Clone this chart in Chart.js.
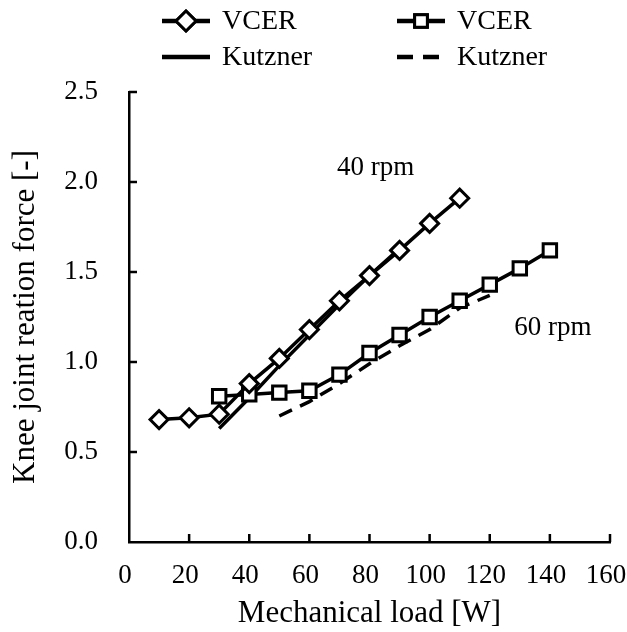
<!DOCTYPE html>
<html><head><meta charset="utf-8">
<script src="https://cdn.jsdelivr.net/npm/chart.js@4/dist/chart.umd.min.js"></script>
<style>html,body{margin:0;padding:0;background:#fff;} #wrap{width:627px;height:632px;position:relative;}</style>
</head><body><div id="wrap"><canvas id="c" width="627" height="632"></canvas></div>
<script>
// ---- data ----
const loads40 = [10, 20, 30, 40, 50, 60, 70, 80, 90, 100, 110];
const vcer40 = [0.68, 0.69, 0.71, 0.88, 1.02, 1.18, 1.34, 1.48, 1.62, 1.77, 1.91];
const loads60 = [30, 40, 50, 60, 70, 80, 90, 100, 110, 120, 130, 140];
const vcer60 = [0.81, 0.82, 0.83, 0.84, 0.93, 1.05, 1.15, 1.25, 1.34, 1.43, 1.52, 1.62];
const kutznerLoads40 = [30, 40, 50, 60, 70, 80, 90];
const kutzner40 = [0.63, 0.80, 0.98, 1.15, 1.32, 1.48, 1.63];
const kutznerLoads60 = [50, 60, 70, 80, 90, 100, 110, 120];
const kutzner60 = [0.70, 0.78, 0.88, 0.99, 1.09, 1.18, 1.30, 1.37];
const seriesLabels = ['VCER', 'VCER', 'Kutzner', 'Kutzner'];
const xTickValues = [0, 20, 40, 60, 80, 100, 120, 140, 160];
const yTickValues = [0.0, 0.5, 1.0, 1.5, 2.0, 2.5];
const xTitle = 'Mechanical load [W]';
const yTitle = 'Knee joint reation force [-]';
const notes = [{text: '40 rpm', x: 82, y: 2.08}, {text: '60 rpm', x: 141, y: 1.19}];

const FONT = '"Liberation Serif", "Times New Roman", serif';
const toXY = (xs, ys) => xs.map((x, i) => ({x: x, y: ys[i]}));

const datasets = [
  {label: seriesLabels[0], data: toXY(loads40, vcer40), borderColor: '#000', backgroundColor: '#fff',
   borderWidth: 3.5, pointStyle: 'rectRot', pointRadius: 9, pointBorderWidth: 3, pointBackgroundColor: '#fff', pointBorderColor: '#000'},
  {label: seriesLabels[1], data: toXY(loads60, vcer60), borderColor: '#000', backgroundColor: '#fff',
   borderWidth: 3.5, pointStyle: 'rect', pointRadius: 9.5, pointBorderWidth: 3, pointBackgroundColor: '#fff', pointBorderColor: '#000'},
  {label: seriesLabels[2], data: toXY(kutznerLoads40, kutzner40), borderColor: '#000',
   borderWidth: 3.5, pointRadius: 0, legendDash: []},
  {label: seriesLabels[3], data: toXY(kutznerLoads60, kutzner60), borderColor: '#000',
   borderWidth: 3.5, pointRadius: 0, borderDash: [14, 9], legendDash: [16, 10]}
];

const extras = {
  id: 'extras',
  afterDraw(chart) {
    const ctx = chart.ctx;
    const xs = chart.scales.x, ys = chart.scales.y;
    const area = chart.chartArea;
    ctx.save();
    // inward tick marks
    ctx.strokeStyle = '#000';
    ctx.lineWidth = 2.5;
    ctx.beginPath();
    xTickValues.forEach(v => {
      if (v === 0) return;
      const px = xs.getPixelForValue(v);
      ctx.moveTo(px, area.bottom); ctx.lineTo(px, area.bottom - 8);
    });
    yTickValues.forEach(v => {
      if (v === 0) return;
      const py = ys.getPixelForValue(v);
      ctx.moveTo(area.left, py); ctx.lineTo(area.left + 8, py);
    });
    ctx.stroke();
    // annotations
    ctx.fillStyle = '#000';
    ctx.font = '27px ' + FONT;
    ctx.textAlign = 'center';
    ctx.textBaseline = 'middle';
    notes.forEach(n => ctx.fillText(n.text, xs.getPixelForValue(n.x), ys.getPixelForValue(n.y)));
    // legend 2x2
    const cols = [162, 397], rows = [21, 57];
    chart.data.datasets.forEach((ds, i) => {
      const x0 = cols[i % 2], y0 = rows[Math.floor(i / 2)];
      ctx.save();
      ctx.strokeStyle = '#000';
      ctx.lineWidth = 4.5;
      const dash = ds.legendDash || [];
      ctx.setLineDash(dash);
      ctx.beginPath(); ctx.moveTo(x0, y0); ctx.lineTo(x0 + (dash.length ? 43 : 48), y0); ctx.stroke();
      ctx.setLineDash([]);
      if (ds.pointRadius) {
        ctx.fillStyle = '#fff'; ctx.strokeStyle = '#000'; ctx.lineWidth = 3;
        Chart.helpers.drawPoint(ctx, {pointStyle: ds.pointStyle, radius: ds.pointStyle === 'rectRot' ? 10 : 9, borderWidth: 3, rotation: 0}, x0 + 24, y0);
        ctx.fill(); ctx.stroke();
      }
      ctx.restore();
      ctx.fillStyle = '#000';
      ctx.font = '28px ' + FONT;
      ctx.textAlign = 'left';
      ctx.textBaseline = 'middle';
      ctx.fillText(ds.label, x0 + 60, y0 + 1);
    });
    ctx.restore();
  }
};

new Chart(document.getElementById('c'), {
  type: 'line',
  data: {datasets: datasets},
  options: {
    responsive: false,
    animation: false,
    devicePixelRatio: 1,
    layout: {padding: {left: 0, right: 17, top: 92, bottom: 0}},
    plugins: {legend: {display: false}, tooltip: {enabled: false}},
    scales: {
      x: {
        type: 'linear', min: 0, max: 160,
        afterBuildTicks: s => { s.ticks = xTickValues.map(v => ({value: v})); },
        afterFit: s => { s.height = 90; s.paddingLeft = 0; s.paddingRight = 0; },
        ticks: {color: '#000', font: {family: FONT, size: 27}, padding: 18, labelOffset: -4, maxRotation: 0, autoSkip: false,
                callback: v => String(v)},
        grid: {drawOnChartArea: false, drawTicks: false},
        border: {color: '#000', width: 2.5},
        title: {display: true, text: xTitle, color: '#000', font: {family: FONT, size: 31}, padding: {top: 0, bottom: 0}}
      },
      y: {
        type: 'linear', min: 0, max: 2.5,
        afterBuildTicks: s => { s.ticks = yTickValues.map(v => ({value: v})); },
        afterFit: s => { s.width = 129; s.paddingTop = 0; s.paddingBottom = 0; },
        ticks: {color: '#000', font: {family: FONT, size: 27}, padding: 31, autoSkip: false,
                callback: v => Number(v).toFixed(1)},
        grid: {drawOnChartArea: false, drawTicks: false},
        border: {color: '#000', width: 2.5},
        title: {display: true, text: yTitle, color: '#000', font: {family: FONT, size: 31}, padding: {top: 7, bottom: 0}}
      }
    }
  },
  plugins: [extras]
});
</script></body></html>
